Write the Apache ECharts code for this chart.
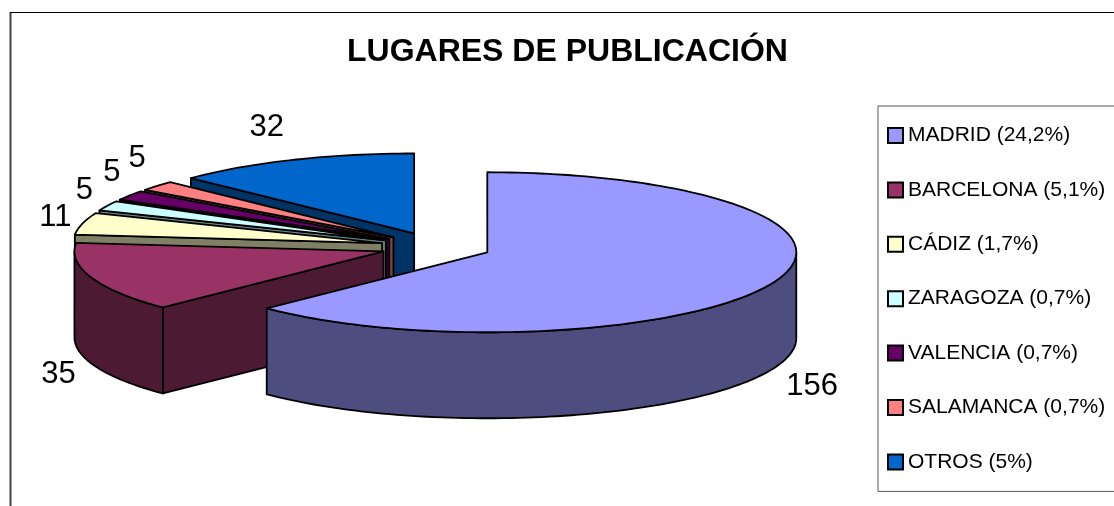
<!DOCTYPE html>
<html>
<head>
<meta charset="utf-8">
<title>Lugares de publicación</title>
<script src="https://cdn.jsdelivr.net/npm/echarts@6/dist/echarts.min.js"></script>
<style>
  html, body { margin: 0; padding: 0; background: #fff; overflow: hidden; }
  #chart { width: 1114px; height: 506px; }
</style>
</head>
<body>
<div id="chart"></div>
<script>
const categories = ['MADRID (24,2%)', 'BARCELONA (5,1%)', 'CÁDIZ (1,7%)', 'ZARAGOZA (0,7%)', 'VALENCIA (0,7%)', 'SALAMANCA (0,7%)', 'OTROS (5%)'];
const values = [156, 35, 11, 5, 5, 5, 32];

const topColors = ['#9999ff', '#993366', '#ffffcc', '#ccffff', '#660066', '#ff8080', '#0066cc'];
const sideColors = ['#4d4d80', '#4d1a33', '#808066', '#668080', '#330033', '#804040', '#003366'];
// nudges the number away from the rim of its slice
const labelNudge = [[40, 17], [-33, 11], [-27, -6], [-23, -15], [-18, -23], [-20, -27], [-26, -32]];

// fake 3d pie: tilted ellipse, every slice pulled out by the same fraction
const pie = { cx: 436, cy: 246.7, rx: 309, ry: 80, depth: 86, explode: 0.18 };
const total = values.reduce((a, b) => a + b, 0);
const startAngles = [];
values.reduce((acc, v, i) => {
  startAngles[i] = acc;
  return acc + (v / total) * Math.PI * 2;
}, 0);

const stroke = { stroke: '#000', lineWidth: 1.8, lineJoin: 'round' };

function renderSlice(params, api) {
  const i = params.seriesIndex;
  const a0 = startAngles[i];
  const a1 = a0 + (api.value(0) / total) * Math.PI * 2;
  const mid = (a0 + a1) / 2;
  const ax = pie.cx + pie.rx * pie.explode * Math.sin(mid);
  const ay = pie.cy - pie.ry * pie.explode * Math.cos(mid);
  const rim = (a) => [ax + pie.rx * Math.sin(a), ay - pie.ry * Math.cos(a)];
  const down = (p) => [p[0], p[1] + pie.depth];

  const arc = [];
  const steps = Math.max(4, Math.ceil((a1 - a0) * 40));
  for (let s = 0; s <= steps; s++) arc.push(a0 + ((a1 - a0) * s) / steps);

  const side = { fill: sideColors[i], ...stroke };
  const children = [];
  // cut faces, only those turned towards the viewer
  const cutFaces = [];
  if (Math.sin(a0) < 0) cutFaces.push(a0);
  if (Math.sin(a1) > 1e-9) cutFaces.push(a1);
  cutFaces.forEach((a) => {
    children.push({
      type: 'polygon',
      shape: { points: [[ax, ay], rim(a), down(rim(a)), down([ax, ay])] },
      style: side
    });
  });
  // outer wall, only the part that faces the viewer
  const wall = arc.filter((a) => a <= Math.PI * 1.5 && a >= Math.PI * 0.5);
  if (a0 < Math.PI * 1.5 && a1 > Math.PI * 1.5) wall.push(Math.PI * 1.5);
  if (a0 < Math.PI * 0.5 && a1 > Math.PI * 0.5) wall.unshift(Math.PI * 0.5);
  if (wall.length > 1) {
    const upper = wall.map(rim);
    children.push({
      type: 'polygon',
      shape: { points: upper.concat(upper.map(down).reverse()) },
      style: side
    });
  }
  children.push({
    type: 'polygon',
    shape: { points: [[ax, ay]].concat(arc.map(rim)) },
    style: { fill: topColors[i], ...stroke }
  });

  const edge = rim(mid);
  const lift = Math.cos(mid) < 0 ? pie.depth : 0;
  children.push({
    type: 'text',
    style: {
      x: edge[0] + labelNudge[i][0],
      y: edge[1] + lift + labelNudge[i][1],
      text: String(api.value(0)),
      font: '31px "Liberation Sans", Arial, sans-serif',
      fill: '#000',
      align: 'center',
      verticalAlign: 'middle'
    }
  });
  return { type: 'group', children };
}

const chart = echarts.init(document.getElementById('chart'));
chart.setOption({
  animation: false,
  backgroundColor: '#fff',
  title: {
    text: 'LUGARES DE PUBLICACIÓN',
    left: 347,
    top: 36,
    padding: 0,
    textStyle: { fontFamily: '"Liberation Sans", Arial, sans-serif', fontSize: 32, fontWeight: 'bold', color: '#000' }
  },
  legend: {
    orient: 'vertical',
    left: 878,
    top: 106,
    data: categories,
    icon: 'rect',
    selectedMode: false,
    itemWidth: 15,
    itemHeight: 15,
    itemGap: 33.4,
    padding: [19, 40, 19, 9],
    borderColor: '#555',
    borderWidth: 1,
    itemStyle: { borderColor: '#000', borderWidth: 2 },
    textStyle: { fontFamily: '"Liberation Sans", Arial, sans-serif', fontSize: 21, color: '#000', lineHeight: 20 }
  },
  graphic: [
    { type: 'line', shape: { x1: 10.5, y1: 12, x2: 10.5, y2: 506 }, style: { stroke: '#404040', lineWidth: 2 } },
    { type: 'line', shape: { x1: 10, y1: 12.5, x2: 1114, y2: 12.5 }, style: { stroke: '#000', lineWidth: 1 } }
  ],
  series: categories.map((name, i) => ({
    type: 'custom',
    name,
    coordinateSystem: 'none',
    silent: true,
    z: 10 + categories.length - i,
    itemStyle: { color: topColors[i] },
    renderItem: renderSlice,
    data: [values[i]]
  }))
});
</script>
</body>
</html>
